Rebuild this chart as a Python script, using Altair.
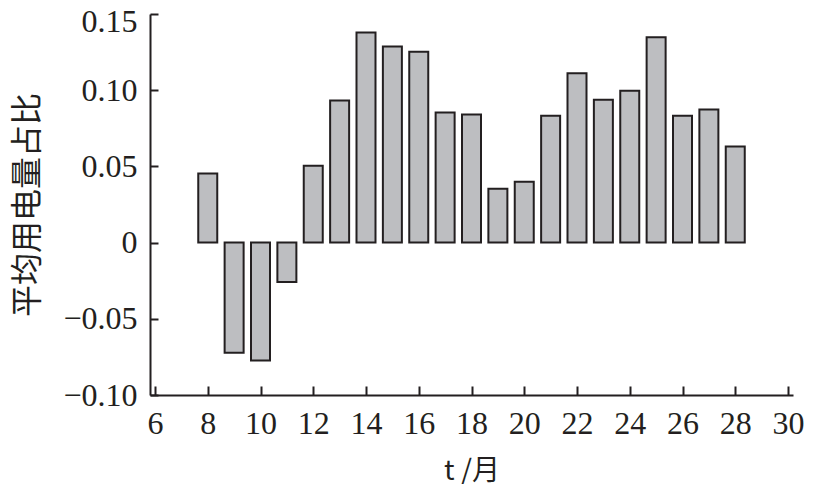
import altair as alt
import pandas as pd

months = [8, 9, 10, 11, 12, 13, 14, 15, 16, 17, 18, 19, 20, 21, 22, 23, 24, 25, 26, 27, 28]
ratios = [0.0453, -0.0722, -0.0774, -0.0258, 0.0505, 0.0932, 0.1378, 0.1286, 0.1253,
          0.0853, 0.0840, 0.0354, 0.0400, 0.0833, 0.1111, 0.0938, 0.0997, 0.1348,
          0.0833, 0.0873, 0.0630]
x_ticks = [6, 8, 10, 12, 14, 16, 18, 20, 22, 24, 26, 28, 30]
y_ticks = [-0.10, -0.05, 0, 0.05, 0.10, 0.15]

df = pd.DataFrame({"month": months, "ratio": ratios})

FONT = "'Liberation Serif', 'Times New Roman', Times, serif"
CJK = "'Noto Sans CJK SC', sans-serif"
INK = "#231f20"
PLOT_H = 381

chart = alt.Chart(df).mark_bar(
    size=19, fill="#bdbec1", stroke=INK, strokeWidth=2
).encode(
    x=alt.X("month:Q",
            scale=alt.Scale(domain=[6, 30], nice=False, zero=False),
            axis=alt.Axis(values=x_ticks, title="t /月", format="d",
                          labelFont=FONT, labelFontSize=32, labelColor=INK,
                          labelPadding=13, labelFlush=False, labelOverlap=False,
                          ticks=False, grid=True, gridColor=INK, gridWidth=2,
                          gridDash=[0, PLOT_H - 9, 9, 2000],
                          domainColor=INK, domainWidth=2,
                          titleFont=CJK, titleFontSize=28, titleFontWeight="normal",
                          titleColor=INK, titlePadding=18)),
    y=alt.Y("ratio:Q",
            scale=alt.Scale(domain=[-0.10, 0.15], nice=False),
            axis=alt.Axis(values=y_ticks, title="平均用电量占比",
                          labelExpr="datum.value == 0 ? '0' : format(datum.value, '.2f')",
                          labelFont=FONT, labelFontSize=32, labelColor=INK,
                          labelPadding=13, labelFlush=False, labelOverlap=False,
                          labelOffset={"condition": {"test": "datum.value > 0.12", "value": 7},
                                       "value": 0},
                          ticks=False, grid=True, gridColor=INK, gridWidth=2,
                          gridDash=[8, 2000],
                          domainColor=INK, domainWidth=2,
                          titleFont=CJK, titleFontSize=32, titleFontWeight="normal",
                          titleColor=INK, titleX=-106)),
).properties(
    width=643, height=PLOT_H,
    autosize=alt.AutoSizeParams(type="none"),
    padding={"left": 142, "top": 6, "right": 16, "bottom": 89},
).configure_view(stroke=None)

chart.save("out.html", embed_options={"renderer": "svg", "actions": False})
